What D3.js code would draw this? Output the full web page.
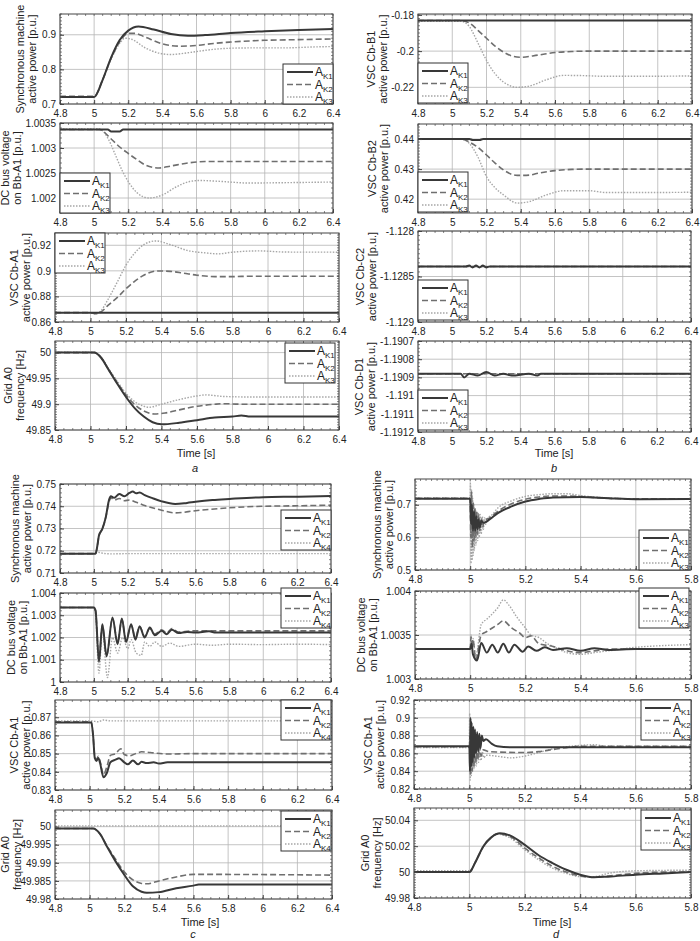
<!DOCTYPE html>
<html>
<head>
<meta charset="utf-8">
<script src="https://cdn.jsdelivr.net/npm/d3@7"></script>
<style>
  body { margin: 0; background: #fff; }
  text { font-family: "Liberation Sans", Arial, sans-serif; fill: #222; }
</style>
</head>
<body>
<svg id="chart" width="700" height="941"></svg>
<script>
// ---- tick values ----
const xTicksLong = [4.8, 5, 5.2, 5.4, 5.6, 5.8, 6, 6.2, 6.4];
const xTicksShort = [4.8, 5, 5.2, 5.4, 5.6, 5.8];

const a1Ticks = [0.7, 0.8, 0.9];
const a2Ticks = [1.002, 1.0025, 1.003, 1.0035];
const a3Ticks = [0.86, 0.88, 0.9, 0.92];
const a4Ticks = [49.85, 49.9, 49.95, 50];
const b1Ticks = [-0.22, -0.2, -0.18];
const b2Ticks = [0.42, 0.43, 0.44];
const b3Ticks = [-1.129, -1.1285, -1.128];
const b4Ticks = [-1.1912, -1.1911, -1.191, -1.1909, -1.1908, -1.1907];
const c1Ticks = [0.71, 0.72, 0.73, 0.74, 0.75];
const c2Ticks = [1, 1.001, 1.002, 1.003, 1.004];
const c3Ticks = [0.83, 0.84, 0.85, 0.86, 0.87];
const c4Ticks = [49.98, 49.985, 49.99, 49.995, 50];
const d1Ticks = [0.5, 0.6, 0.7];
const d2Ticks = [1.003, 1.0035, 1.004];
const d3Ticks = [0.82, 0.84, 0.86, 0.88, 0.9, 0.92];
const d4Ticks = [49.98, 50, 50.02, 50.04];

// ---- series: [time s, value] ----
// a) synchronous machine active power
const a1K1 = [[4.8,.72],[5.0,.72],[5.05,.77],[5.1,.835],[5.15,.885],[5.2,.912],[5.26,.924],[5.35,.915],[5.45,.902],[5.55,.897],[5.65,.899],[5.8,.905],[6.0,.91],[6.2,.914],[6.4,.917]];
const a1K2 = [[4.8,.722],[5.0,.722],[5.05,.77],[5.1,.833],[5.15,.88],[5.2,.904],[5.24,.904],[5.3,.893],[5.4,.874],[5.5,.867],[5.6,.869],[5.7,.875],[5.8,.879],[6.0,.884],[6.2,.886],[6.4,.888]];
const a1K3 = [[4.8,.72],[5.0,.72],[5.05,.77],[5.1,.83],[5.15,.875],[5.18,.89],[5.22,.887],[5.3,.862],[5.38,.847],[5.45,.843],[5.55,.848],[5.65,.855],[5.75,.86],[5.9,.862],[6.1,.862],[6.3,.865],[6.4,.866]];
// a) DC bus voltage
const a2K1 = [[4.8,1.00337],[5.08,1.00337],[5.1,1.00333],[5.15,1.00333],[5.17,1.00337],[6.4,1.00337]];
const a2K2 = [[4.8,1.00337],[5.03,1.00337],[5.1,1.00318],[5.15,1.00302],[5.2,1.00289],[5.25,1.00277],[5.3,1.00266],[5.38,1.0026],[5.45,1.00264],[5.55,1.0027],[5.65,1.00273],[6.4,1.00273]];
const a2K3 = [[4.8,1.00338],[5.03,1.00338],[5.08,1.0032],[5.12,1.0029],[5.16,1.00258],[5.2,1.00233],[5.25,1.00211],[5.32,1.002],[5.4,1.00206],[5.48,1.00222],[5.56,1.00233],[5.62,1.00235],[5.75,1.00233],[5.9,1.0023],[6.2,1.00231],[6.4,1.00232]];
// a) VSC Cb-A1
const a3K1 = [[4.8,.8673],[6.4,.8673]];
const a3K2 = [[4.8,.8673],[5.0,.8673],[5.03,.8665],[5.06,.868],[5.1,.8732],[5.15,.879],[5.2,.886],[5.25,.892],[5.3,.8966],[5.38,.8999],[5.45,.8996],[5.52,.8983],[5.6,.8966],[5.7,.8955],[5.8,.8955],[5.9,.8958],[6.4,.8958]];
const a3K3 = [[4.8,.8673],[5.0,.8673],[5.03,.8663],[5.06,.869],[5.1,.878],[5.15,.891],[5.2,.9044],[5.25,.914],[5.3,.9205],[5.37,.9234],[5.45,.9205],[5.55,.9158],[5.65,.914],[5.72,.9133],[5.8,.9146],[5.95,.9156],[6.1,.9147],[6.4,.9146]];
// a) grid frequency
const a4K1 = [[4.8,50],[5.02,50],[5.06,49.99],[5.1,49.968],[5.15,49.94],[5.2,49.914],[5.25,49.892],[5.3,49.876],[5.35,49.865],[5.4,49.861],[5.5,49.864],[5.6,49.869],[5.7,49.874],[5.8,49.876],[5.85,49.878],[5.9,49.876],[6.4,49.876]];
const a4K2 = [[4.8,50],[5.02,50],[5.06,49.99],[5.1,49.968],[5.15,49.942],[5.2,49.918],[5.25,49.899],[5.3,49.887],[5.36,49.881],[5.42,49.883],[5.5,49.889],[5.6,49.896],[5.7,49.9],[5.75,49.901],[5.85,49.9],[6.4,49.9]];
const a4K3 = [[4.8,50.001],[5.02,50.001],[5.06,49.991],[5.1,49.97],[5.15,49.945],[5.2,49.921],[5.25,49.905],[5.3,49.896],[5.33,49.894],[5.4,49.9],[5.5,49.909],[5.6,49.916],[5.65,49.918],[5.75,49.915],[5.9,49.914],[6.4,49.914]];

// b) VSC Cb-B1
const b1K1 = [[4.8,-.1831],[6.4,-.1831]];
const b1K2 = [[4.8,-.1831],[5.05,-.1831],[5.1,-.1845],[5.15,-.1885],[5.2,-.1929],[5.25,-.1972],[5.3,-.2006],[5.35,-.2027],[5.4,-.2034],[5.5,-.2022],[5.6,-.2008],[5.7,-.2002],[5.8,-.2],[6.4,-.2]];
const b1K3 = [[4.8,-.1835],[5.05,-.1835],[5.1,-.1865],[5.15,-.1955],[5.2,-.2051],[5.25,-.2125],[5.3,-.2171],[5.38,-.22],[5.45,-.2193],[5.55,-.2158],[5.65,-.2134],[5.75,-.2135],[5.9,-.2139],[6.1,-.2139],[6.4,-.2137]];
// b) VSC Cb-B2
const b2K1 = [[4.8,.44],[5.1,.44],[5.12,.4397],[5.16,.4397],[5.18,.44],[6.4,.44]];
const b2K2 = [[4.8,.44],[5.05,.44],[5.1,.439],[5.15,.4372],[5.2,.4347],[5.25,.432],[5.3,.4297],[5.38,.4279],[5.45,.428],[5.5,.4286],[5.6,.4295],[5.7,.4299],[5.8,.43],[6.4,.43]];
const b2K3 = [[4.8,.44],[5.05,.44],[5.1,.4385],[5.15,.434],[5.2,.4275],[5.25,.4238],[5.3,.4214],[5.38,.4187],[5.45,.4192],[5.55,.4214],[5.65,.4228],[5.8,.4228],[5.9,.4222],[6.1,.4222],[6.4,.4223]];
// b) VSC Cb-C2
const b3K1 = [[4.8,-1.12839],[5.08,-1.12839],[5.1,-1.12838],[5.12,-1.1284],[5.14,-1.12838],[5.16,-1.1284],[5.18,-1.12838],[5.2,-1.1284],[5.22,-1.12839],[6.4,-1.12839]];
const b3K2 = [[4.8,-1.12839],[6.4,-1.12839]];
const b3K3 = [[4.8,-1.12839],[6.4,-1.12839]];
// b) VSC Cb-D1
const b4K1 = [[4.8,-1.19088],[5.05,-1.19088],[5.07,-1.1909],[5.1,-1.19088],[5.15,-1.19089],[5.2,-1.19087],[5.25,-1.19089],[5.3,-1.19088],[5.35,-1.19089],[5.45,-1.19088],[5.5,-1.19089],[5.52,-1.19088],[6.4,-1.19088]];
const b4K2 = [[4.8,-1.19088],[6.4,-1.19088]];
const b4K3 = [[4.8,-1.19088],[6.4,-1.19088]];

// c) synchronous machine active power
const c1K1 = [[4.8,.7187],[5.01,.7187],[5.02,.722],[5.03,.7268],[5.05,.7298],[5.07,.735],[5.09,.743],[5.1,.7445],[5.12,.7438],[5.15,.7455],[5.18,.7445],[5.21,.746],[5.23,.7466],[5.25,.7458],[5.27,.7462],[5.3,.745],[5.35,.7435],[5.4,.7422],[5.48,.741],[5.55,.7415],[5.6,.742],[5.7,.7428],[5.8,.7433],[6.0,.7441],[6.2,.7443],[6.4,.7446]];
const c1K2 = [[4.8,.7187],[5.01,.7187],[5.02,.722],[5.03,.7268],[5.05,.7298],[5.07,.735],[5.09,.742],[5.1,.7438],[5.12,.7428],[5.15,.7435],[5.18,.7425],[5.21,.7428],[5.25,.7418],[5.3,.7403],[5.35,.7392],[5.4,.7382],[5.48,.737],[5.6,.738],[5.8,.7393],[6.0,.74],[6.2,.7402],[6.4,.7405]];
const c1K4 = [[4.8,.7187],[5.01,.7187],[5.02,.7194],[5.04,.7191],[5.06,.7188],[5.1,.7186],[5.2,.7187],[6.4,.7187]];
// c) DC bus voltage
const c2K1 = [[4.8,1.00335],[5.0,1.00335],[5.01,1.0032],[5.03,1.0009],[5.05,1.0026],[5.075,1.00115],[5.11,1.0029],[5.14,1.0017],[5.165,1.00285],[5.19,1.0018],[5.22,1.0026],[5.245,1.0019],[5.27,1.0025],[5.3,1.002],[5.33,1.00245],[5.36,1.0021],[5.4,1.0023],[5.43,1.00215],[5.46,1.00235],[5.5,1.0022],[5.55,1.00225],[5.6,1.00222],[5.68,1.00228],[5.72,1.00222],[6.4,1.00222]];
const c2K2 = [[4.8,1.00335],[5.0,1.00335],[5.01,1.0032],[5.03,1.001],[5.05,1.00255],[5.075,1.0012],[5.11,1.00285],[5.14,1.0018],[5.165,1.0028],[5.19,1.0019],[5.22,1.00255],[5.245,1.002],[5.27,1.0025],[5.3,1.00205],[5.33,1.0024],[5.36,1.00215],[5.4,1.00235],[5.43,1.0022],[5.46,1.0024],[5.5,1.00225],[5.6,1.0023],[6.4,1.0023]];
const c2K4 = [[4.8,1.00335],[5.0,1.00335],[5.01,1.003],[5.03,1.0004],[5.05,1.0023],[5.08,1.0002],[5.11,1.002],[5.14,1.0013],[5.17,1.002],[5.2,1.0015],[5.22,1.0019],[5.25,1.0013],[5.28,1.0012],[5.3,1.0018],[5.33,1.0016],[5.36,1.0018],[5.4,1.0016],[5.45,1.00175],[5.5,1.0016],[5.6,1.0017],[5.7,1.00165],[5.8,1.0017],[6.0,1.00168],[6.2,1.0017],[6.4,1.00168]];
// c) VSC Cb-A1
const c3K1 = [[4.8,.8671],[5.01,.8671],[5.02,.86],[5.03,.8475],[5.04,.846],[5.05,.8476],[5.06,.845],[5.08,.837],[5.1,.8395],[5.12,.8453],[5.15,.8467],[5.17,.8475],[5.2,.8452],[5.22,.8441],[5.25,.8462],[5.28,.8441],[5.3,.8455],[5.33,.8448],[5.37,.8452],[5.4,.8446],[5.45,.8452],[5.5,.8452],[6.4,.8452]];
const c3K2 = [[4.8,.8675],[5.01,.8675],[5.02,.86],[5.03,.848],[5.04,.847],[5.05,.8485],[5.06,.846],[5.08,.8383],[5.1,.843],[5.12,.849],[5.15,.85],[5.18,.8527],[5.2,.8495],[5.23,.8488],[5.27,.8502],[5.3,.851],[5.35,.8506],[5.45,.8498],[5.6,.85],[6.4,.85]];
const c3K4 = [[4.8,.868],[5.01,.868],[5.05,.8675],[5.08,.8685],[5.12,.868],[6.4,.868]];
// c) grid frequency
const c4K1 = [[4.8,49.9995],[5.02,49.9995],[5.06,49.998],[5.1,49.9945],[5.15,49.9904],[5.2,49.9867],[5.25,49.9835],[5.3,49.982],[5.33,49.9817],[5.4,49.9819],[5.5,49.983],[5.6,49.9837],[5.63,49.984],[6.4,49.984]];
const c4K2 = [[4.8,49.9995],[5.02,49.9995],[5.06,49.998],[5.1,49.9947],[5.15,49.991],[5.2,49.9875],[5.25,49.9853],[5.3,49.9843],[5.33,49.9842],[5.4,49.985],[5.5,49.9861],[5.6,49.9868],[5.7,49.9868],[6.4,49.9866]];
const c4K4 = [[4.8,50.0002],[6.4,50.0002]];

// d) synchronous machine active power
const d1K1 = [[4.8,.7185],[5.0,.7185],[5.003,.64],[5.006,.7],[5.01,.62],[5.014,.68],[5.018,.62],[5.022,.665],[5.026,.625],[5.03,.655],[5.035,.63],[5.04,.65],[5.05,.645],[5.07,.655],[5.1,.6745],[5.15,.695],[5.2,.71],[5.25,.718],[5.3,.7226],[5.4,.7236],[5.5,.72],[5.6,.717],[5.8,.7175]];
const d1K2 = [[4.8,.7195],[5.0,.7195],[5.002,.6],[5.005,.74],[5.008,.57],[5.011,.71],[5.014,.59],[5.017,.69],[5.02,.6],[5.023,.68],[5.027,.61],[5.031,.67],[5.035,.62],[5.04,.66],[5.045,.63],[5.05,.65],[5.07,.66],[5.1,.68],[5.15,.703],[5.2,.717],[5.25,.724],[5.3,.727],[5.35,.727],[5.4,.725],[5.5,.72],[5.6,.718],[5.8,.718]];
const d1K3 = [[4.8,.721],[5.0,.721],[5.001,.765],[5.003,.52],[5.005,.745],[5.007,.53],[5.009,.72],[5.011,.545],[5.013,.70],[5.015,.56],[5.018,.69],[5.021,.575],[5.024,.68],[5.027,.59],[5.03,.675],[5.033,.60],[5.036,.67],[5.04,.61],[5.044,.665],[5.048,.625],[5.052,.66],[5.056,.64],[5.06,.655],[5.08,.67],[5.1,.69],[5.15,.712],[5.2,.7256],[5.25,.731],[5.3,.734],[5.35,.734],[5.4,.728],[5.5,.721],[5.6,.718],[5.8,.718]];
// d) DC bus voltage
const d2K1 = [[4.8,1.00334],[5.0,1.00334],[5.005,1.0034],[5.01,1.00328],[5.025,1.00321],[5.04,1.00341],[5.06,1.0033],[5.08,1.00339],[5.1,1.0033],[5.12,1.0034],[5.14,1.0033],[5.16,1.00339],[5.19,1.00331],[5.21,1.00337],[5.24,1.00332],[5.27,1.00336],[5.3,1.00333],[5.35,1.00335],[5.4,1.00332],[5.45,1.00335],[5.5,1.00333],[5.6,1.00334],[5.8,1.00334]];
const d2K2 = [[4.8,1.00334],[5.0,1.00334],[5.003,1.00348],[5.006,1.00335],[5.01,1.00345],[5.02,1.00322],[5.04,1.0035],[5.06,1.00354],[5.08,1.00358],[5.1,1.00362],[5.12,1.00366],[5.15,1.00358],[5.18,1.00352],[5.2,1.00347],[5.22,1.00349],[5.25,1.0034],[5.3,1.00337],[5.35,1.00332],[5.4,1.0033],[5.45,1.00332],[5.5,1.00334],[5.8,1.00334]];
const d2K3 = [[4.8,1.00334],[5.0,1.00334],[5.003,1.0035],[5.006,1.00336],[5.01,1.00346],[5.02,1.00325],[5.04,1.00362],[5.06,1.00368],[5.08,1.00374],[5.1,1.00381],[5.12,1.0039],[5.14,1.00384],[5.17,1.0037],[5.2,1.00358],[5.22,1.0035],[5.25,1.00347],[5.28,1.0034],[5.3,1.00337],[5.35,1.0033],[5.4,1.00328],[5.45,1.0033],[5.5,1.00332],[5.6,1.00336],[5.7,1.00338],[5.8,1.00339]];
// d) VSC Cb-A1
const d3K1 = [[4.8,.8681],[5.0,.8681],[5.002,.84],[5.004,.9],[5.006,.845],[5.008,.895],[5.011,.85],[5.014,.89],[5.017,.855],[5.02,.887],[5.024,.86],[5.028,.884],[5.032,.862],[5.036,.882],[5.04,.866],[5.045,.88],[5.05,.874],[5.06,.876],[5.08,.871],[5.1,.868],[5.15,.867],[5.8,.867]];
const d3K2 = [[4.8,.8675],[5.0,.8675],[5.002,.88],[5.004,.835],[5.007,.89],[5.01,.84],[5.013,.882],[5.016,.845],[5.02,.876],[5.024,.85],[5.028,.872],[5.032,.853],[5.037,.868],[5.042,.857],[5.05,.864],[5.07,.862],[5.1,.8615],[5.2,.861],[5.25,.862],[5.3,.8643],[5.35,.8665],[5.4,.868],[5.8,.868]];
const d3K3 = [[4.8,.8665],[5.0,.8665],[5.001,.905],[5.003,.83],[5.005,.895],[5.007,.835],[5.009,.885],[5.012,.84],[5.015,.878],[5.018,.843],[5.021,.872],[5.025,.846],[5.029,.868],[5.033,.85],[5.037,.865],[5.042,.852],[5.047,.862],[5.052,.855],[5.06,.858],[5.1,.8568],[5.15,.855],[5.2,.857],[5.25,.861],[5.3,.865],[5.35,.8675],[5.4,.869],[5.45,.8697],[5.5,.868],[5.8,.868]];
// d) grid frequency
const d4K1 = [[4.8,50],[5.0,50],[5.02,50.007],[5.05,50.0198],[5.08,50.027],[5.11,50.03],[5.15,50.028],[5.2,50.021],[5.25,50.013],[5.3,50.007],[5.35,50.0018],[5.4,49.998],[5.45,49.996],[5.5,49.9965],[5.6,49.998],[5.7,49.999],[5.8,50]];
const d4K2 = [[4.8,50],[5.0,50],[5.02,50.007],[5.05,50.0195],[5.08,50.027],[5.1,50.0295],[5.15,50.027],[5.2,50.0185],[5.25,50.011],[5.3,50.0045],[5.35,50],[5.4,49.997],[5.45,49.996],[5.5,49.997],[5.6,49.999],[5.7,50],[5.8,50]];
const d4K3 = [[4.8,50.001],[5.0,50.001],[5.02,50.007],[5.05,50.0195],[5.08,50.027],[5.1,50.0293],[5.15,50.026],[5.2,50.0172],[5.25,50.0095],[5.3,50.003],[5.35,49.999],[5.4,49.9965],[5.45,49.9965],[5.5,49.999],[5.6,50.001],[5.8,50.0015]];

const namesK3 = ['K1', 'K2', 'K3'];
const namesK4 = ['K1', 'K2', 'K4'];

const LBL_SM = ['Synchronous machine', 'active power [p.u.]'];
const LBL_DC = ['DC bus voltage', 'on Bb-A1 [p.u.]'];
const LBL_A1 = ['VSC Cb-A1', 'active power [p.u.]'];
const LBL_F = ['Grid A0', 'frequency [Hz]'];

// ---- layout: box [left, right, top, bottom], legend top-left, y-label x ----
const panels = [
  {box:[60,333,14,104],  xt:xTicksLong,  yt:a1Ticks, dom:[0.7,0.96],          s:[a1K1,a1K2,a1K3], n:namesK3, lbl:LBL_SM, lx:20,  leg:[283,64]},
  {box:[60,333,123,213], xt:xTicksLong,  yt:a2Ticks, dom:[1.0017,1.0035],     s:[a2K1,a2K2,a2K3], n:namesK3, lbl:LBL_DC, lx:5,   leg:[60,173]},
  {box:[55,339,233,322], xt:xTicksLong,  yt:a3Ticks, dom:[0.86,0.9296],       s:[a3K1,a3K2,a3K3], n:namesK3, lbl:LBL_A1, lx:14,  leg:[55,233]},
  {box:[55,339,341,430], xt:xTicksLong,  yt:a4Ticks, dom:[49.85,50.0225],     s:[a4K1,a4K2,a4K3], n:namesK3, lbl:LBL_F,  lx:8,   leg:[285,343]},
  {box:[418,692,14,104], xt:xTicksLong,  yt:b1Ticks, dom:[-0.2292,-0.1795],   s:[b1K1,b1K2,b1K3], n:namesK3, lbl:['VSC Cb-B1','active power [p.u.]'], lx:371, leg:[418,63]},
  {box:[418,692,124,213],xt:xTicksLong,  yt:b2Ticks, dom:[0.4154,0.445],      s:[b2K1,b2K2,b2K3], n:namesK3, lbl:['VSC Cb-B2','active power [p.u.]'], lx:372, leg:[418,172]},
  {box:[418,691,231,322],xt:xTicksLong,  yt:b3Ticks, dom:[-1.129,-1.128],     s:[b3K1,b3K2,b3K3], n:namesK3, lbl:['VSC Cb-C2','active power [p.u.]'], lx:360, leg:[418,280]},
  {box:[418,691,341,432],xt:xTicksLong,  yt:b4Ticks, dom:[-1.1912,-1.1907],   s:[b4K1,b4K2,b4K3], n:namesK3, lbl:['VSC Cb-D1','active power [p.u.]'], lx:359, leg:[418,390]},
  {box:[60,331,484,573], xt:xTicksLong,  yt:c1Ticks, dom:[0.71,0.75],         s:[c1K1,c1K2,c1K4], n:namesK4, lbl:LBL_SM, lx:15,  leg:[281,510]},
  {box:[60,331,593,682], xt:xTicksLong,  yt:c2Ticks, dom:[1,1.004],           s:[c2K1,c2K2,c2K4], n:namesK4, lbl:LBL_DC, lx:11,  leg:[281,588]},
  {box:[55,332,700,790], xt:xTicksLong,  yt:c3Ticks, dom:[0.83,0.8795],       s:[c3K1,c3K2,c3K4], n:namesK4, lbl:LBL_A1, lx:14,  leg:[281,700]},
  {box:[55,332,810,899], xt:xTicksLong,  yt:c4Ticks, dom:[49.98,50.0046],     s:[c4K1,c4K2,c4K4], n:namesK4, lbl:LBL_F,  lx:5,   leg:[281,811]},
  {box:[415,691,479,570],xt:xTicksShort, yt:d1Ticks, dom:[0.5,0.779],         s:[d1K1,d1K2,d1K3], n:namesK3, lbl:LBL_SM, lx:377, leg:[639,530]},
  {box:[415,691,591,679],xt:xTicksShort, yt:d2Ticks, dom:[1.003,1.004],       s:[d2K1,d2K2,d2K3], n:namesK3, lbl:LBL_DC, lx:361, leg:[639,588]},
  {box:[414,691,700,789],xt:xTicksShort, yt:d3Ticks, dom:[0.82,0.92],         s:[d3K1,d3K2,d3K3], n:namesK3, lbl:LBL_A1, lx:368, leg:[641,700]},
  {box:[414,691,808,898],xt:xTicksShort, yt:d4Ticks, dom:[49.98,50.0495],     s:[d4K1,d4K2,d4K3], n:namesK3, lbl:LBL_F,  lx:365, leg:[641,810]}
];

// quadrant captions: [x for "Time [s]", y, x for letter, y, letter]
const captions = [
  [196, 457, 195, 472, 'a'],
  [554, 457, 554, 472, 'b'],
  [200, 926, 193, 938, 'c'],
  [552, 926, 556, 938, 'd']
];

const styles = [
  {stroke:'#383838', width:2.0, dash:null},
  {stroke:'#6f6f6f', width:1.6, dash:'6,3'},
  {stroke:'#a6a6a6', width:1.4, dash:'1.5,1.5'}
];

const fmt = d => String(+d.toFixed(6));

const svg = d3.select('#chart');

panels.forEach((p, i) => {
  const [x0, x1, y0, y1] = p.box;
  const xs = d3.scaleLinear().domain([p.xt[0], p.xt[p.xt.length - 1]]).range([x0, x1]);
  const ys = d3.scaleLinear().domain(p.dom).range([y1, y0]);
  const g = svg.append('g');

  svg.append('clipPath').attr('id', 'clip' + i)
    .append('rect').attr('x', x0).attr('y', y0).attr('width', x1 - x0).attr('height', y1 - y0);

  // grid
  g.append('g').selectAll('line').data(p.xt).join('line')
    .attr('x1', d => xs(d)).attr('x2', d => xs(d)).attr('y1', y0).attr('y2', y1)
    .attr('stroke', '#b5b5b5').attr('stroke-width', 0.8);
  g.append('g').selectAll('line').data(p.yt).join('line')
    .attr('x1', x0).attr('x2', x1).attr('y1', d => ys(d)).attr('y2', d => ys(d))
    .attr('stroke', '#b5b5b5').attr('stroke-width', 0.8);

  // series
  const line = d3.line().x(d => xs(d[0])).y(d => ys(d[1])).curve(d3.curveMonotoneX);
  const sg = g.append('g').attr('clip-path', `url(#clip${i})`);
  [2, 1, 0].forEach(k => {
    sg.append('path').attr('d', line(p.s[k]))
      .attr('fill', 'none')
      .attr('stroke', styles[k].stroke)
      .attr('stroke-width', styles[k].width)
      .attr('stroke-dasharray', styles[k].dash);
  });

  // minor ticks on the frame
  const minorX = xs.ticks(40);
  const minorY = ys.ticks(25);
  const mt = g.append('g').attr('stroke', '#555').attr('stroke-width', 0.7);
  mt.selectAll('.mx').data(minorX).join('line')
    .attr('x1', d => xs(d)).attr('x2', d => xs(d)).attr('y1', y0).attr('y2', y0 + 2);
  mt.selectAll('.mb').data(minorX).join('line')
    .attr('x1', d => xs(d)).attr('x2', d => xs(d)).attr('y1', y1).attr('y2', y1 - 2);
  mt.selectAll('.my').data(minorY).join('line')
    .attr('x1', x0).attr('x2', x0 + 2).attr('y1', d => ys(d)).attr('y2', d => ys(d));
  mt.selectAll('.mr').data(minorY).join('line')
    .attr('x1', x1).attr('x2', x1 - 2).attr('y1', d => ys(d)).attr('y2', d => ys(d));

  // axes
  const xAxis = g.append('g').attr('transform', `translate(0,${y1})`)
    .call(d3.axisBottom(xs).tickValues(p.xt).tickFormat(fmt).tickSizeInner(-4).tickSizeOuter(0).tickPadding(6));
  const yAxis = g.append('g').attr('transform', `translate(${x0},0)`)
    .call(d3.axisLeft(ys).tickValues(p.yt).tickFormat(fmt).tickSizeInner(-4).tickSizeOuter(0).tickPadding(4));
  [xAxis, yAxis].forEach(a => {
    a.select('.domain').remove();
    a.selectAll('line').attr('stroke', '#444');
    a.selectAll('text').attr('font-size', 10).attr('fill', '#222')
      .attr('font-family', '"Liberation Sans", Arial, sans-serif');
  });

  // frame
  g.append('rect').attr('x', x0).attr('y', y0).attr('width', x1 - x0).attr('height', y1 - y0)
    .attr('fill', 'none').attr('stroke', '#444').attr('stroke-width', 1);

  // two-line y label
  const cy = (y0 + y1) / 2;
  p.lbl.forEach((t, j) => {
    svg.append('text')
      .attr('transform', `translate(${p.lx + j * 12},${cy}) rotate(-90)`)
      .attr('text-anchor', 'middle').attr('dy', '0.35em')
      .attr('font-size', 11).text(t);
  });

  // legend
  const [lx, ly] = p.leg;
  const lg = svg.append('g').attr('transform', `translate(${lx},${ly})`);
  lg.append('rect').attr('width', 50).attr('height', 40)
    .attr('fill', '#fff').attr('stroke', '#333').attr('stroke-width', 1);
  p.n.forEach((nm, k) => {
    const ry = 8 + k * 12.5;
    lg.append('line').attr('x1', 4).attr('x2', 30).attr('y1', ry).attr('y2', ry)
      .attr('stroke', styles[k].stroke).attr('stroke-width', styles[k].width)
      .attr('stroke-dasharray', styles[k].dash);
    const tx = lg.append('text').attr('x', 32).attr('y', ry + 4).attr('font-size', 12);
    tx.append('tspan').text('A');
    tx.append('tspan').attr('font-size', 8).attr('dy', 3).text(nm);
  });
});

captions.forEach(c => {
  svg.append('text').attr('x', c[0]).attr('y', c[1]).attr('text-anchor', 'middle')
    .attr('font-size', 11).text('Time [s]');
  svg.append('text').attr('x', c[2]).attr('y', c[3]).attr('text-anchor', 'middle')
    .attr('font-size', 11).attr('font-style', 'italic').text(c[4]);
});
</script>
</body>
</html>
